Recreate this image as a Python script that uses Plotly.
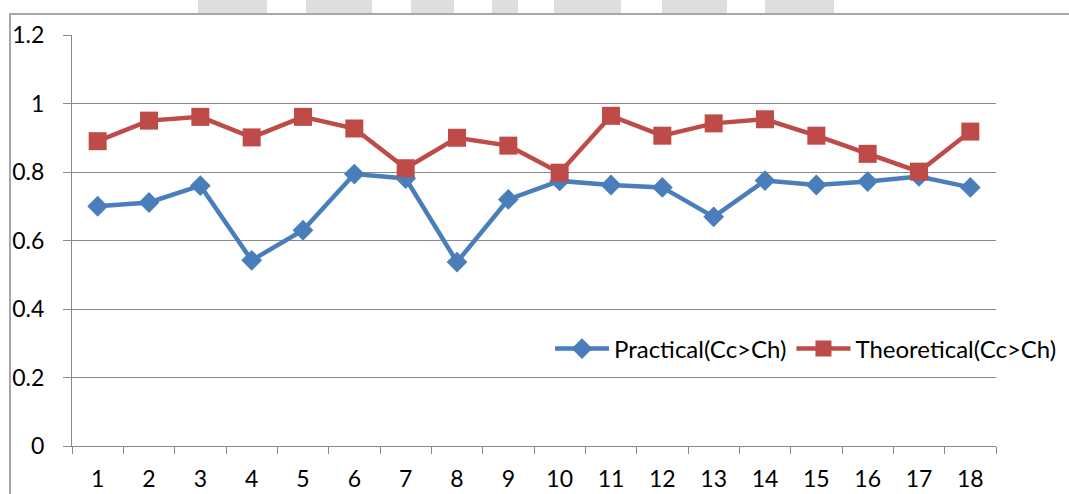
import plotly.graph_objects as go

# Sample index along the x axis
categories = [str(i) for i in range(1, 19)]

# Practical and theoretical ratios (Cc>Ch)
practical = [0.70, 0.711, 0.76, 0.542, 0.63, 0.794, 0.781, 0.537, 0.72,
             0.774, 0.762, 0.755, 0.669, 0.775, 0.762, 0.772, 0.787, 0.755]
theoretical = [0.89, 0.95, 0.961, 0.901, 0.961, 0.927, 0.811, 0.90, 0.877,
               0.798, 0.964, 0.906, 0.942, 0.954, 0.906, 0.853, 0.801, 0.918]

y_ticks = [0, 0.2, 0.4, 0.6, 0.8, 1.0, 1.2]
y_tick_text = ["0", "0.2", "0.4", "0.6", "0.8", "1", "1.2"]

BLUE = "#4a7ebb"
RED = "#be4b48"
GRID = "#888888"
FONT = "Lato, Carlito, Calibri, sans-serif"
FS = 23

W, H = 1069, 494
ML, MR, MT, MB = 72, 73, 35, 48
PW, PH = W - ML - MR, H - MT - MB


def px_x(x):
    return (x - ML) / PW


def px_y(y):
    return (H - MB - y) / PH


fig = go.Figure()
fig.add_trace(go.Scatter(
    x=categories, y=practical, name="Practical(Cc>Ch)",
    mode="lines+markers",
    line=dict(color=BLUE, width=4.5),
    marker=dict(symbol="diamond", size=16, color=BLUE),
))
fig.add_trace(go.Scatter(
    x=categories, y=theoretical, name="Theoretical(Cc>Ch)",
    mode="lines+markers",
    line=dict(color=RED, width=4.5),
    marker=dict(symbol="square", size=18, color=RED),
))

shapes = [
    # outer chart border, running off the right and bottom edges
    dict(type="rect", xref="paper", yref="paper",
         x0=px_x(10), x1=px_x(1100), y0=px_y(520), y1=px_y(14),
         line=dict(color="#8a8a8a", width=1.5), layer="below"),
]
# faint watermark fragments above the chart frame
for a, b in [(198, 267), (306, 372), (411, 454), (492, 518),
             (554, 621), (662, 727), (765, 834)]:
    shapes.append(dict(type="rect", xref="paper", yref="paper",
                       x0=px_x(a), x1=px_x(b), y0=px_y(13), y1=px_y(-2),
                       fillcolor="#dedede", line=dict(width=0), layer="below"))

fig.update_layout(
    width=W, height=H,
    margin=dict(l=ML, r=MR, t=MT, b=MB, autoexpand=False),
    paper_bgcolor="white", plot_bgcolor="white",
    font=dict(family=FONT, size=FS, color="black"),
    showlegend=True,
    legend=dict(
        orientation="h", x=px_x(550), y=px_y(349), xanchor="left", yanchor="middle",
        bgcolor="rgba(0,0,0,0)", font=dict(size=24),
        itemwidth=54, tracegroupgap=0,
    ),
    xaxis=dict(
        type="category", tickson="boundaries", range=[-0.5, 17.5],
        ticks="outside", ticklen=7, tickcolor=GRID, tickwidth=1,
        showline=True, linecolor=GRID, linewidth=1,
        showgrid=False, zeroline=False, automargin=False,
        tickfont=dict(size=FS), ticklabelstandoff=12,
    ),
    yaxis=dict(
        range=[0, 1.2], tickvals=y_ticks, ticktext=y_tick_text,
        ticks="outside", ticklen=8, tickcolor=GRID, tickwidth=1,
        showline=True, linecolor=GRID, linewidth=1,
        showgrid=True, gridcolor=GRID, gridwidth=1, automargin=False,
        zeroline=False, tickfont=dict(size=FS), ticklabelstandoff=14,
    ),
    shapes=shapes,
)

fig.write_html("out.html")
